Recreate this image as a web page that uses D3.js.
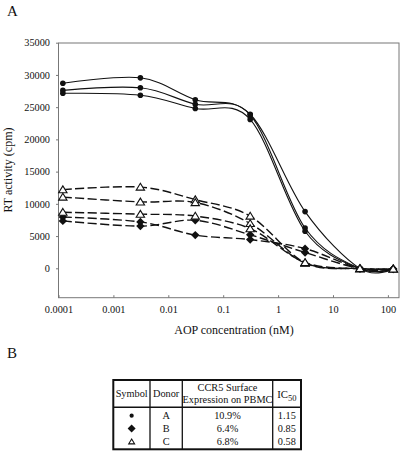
<!DOCTYPE html>
<html><head><meta charset="utf-8">
<script src="https://cdn.jsdelivr.net/npm/d3@7"></script>
<style>body{margin:0;background:#fff}svg{display:block}text{font-family:"Liberation Serif","Times New Roman",serif;fill:#111}</style>
</head><body><svg id="c" width="404" height="456"></svg>
<script>
// concentrations (nM)
const conc = [0.00012, 0.0031, 0.031, 0.31, 3.1, 31, 125];
// Donor A (circles, solid)
const donorA1 = [28700, 29550, 26150, 23900, 8800, -50, -100];
const donorA2 = [27600, 28000, 25450, 23800, 6250, -50, -100];
const donorA3 = [27150, 26850, 24800, 23100, 5750, -50, -100];
// Donor B (diamonds, dashed)
const donorB1 = [7950, 7200, 5150, 4450, 3050, -50, -100];
const donorB2 = [7350, 6550, 7450, 5200, 2450, -50, -100];
// Donor C (triangles, dashed)
const donorC1 = [12200, 12600, 10650, 8100, 850, -50, -100];
const donorC2 = [11050, 10300, 10200, 6950, 800, -50, -100];
const donorC3 = [8700, 8400, 8100, 6150, 900, -50, -100];
const yTicks = [0, 5000, 10000, 15000, 20000, 25000, 30000, 35000];
const xTicks = [0.0001, 0.001, 0.01, 0.1, 1, 10, 100];
const xTickLabels = ["0.0001", "0.001", "0.01", "0.1", "1", "10", "100"];
// table
const tableSymbols = ["circle", "diamond", "triangle"];
const tableDonors = ["A", "B", "C"];
const tableCCR5 = ["10.9%", "6.4%", "6.8%"];
const tableIC50 = ["1.15", "0.85", "0.58"];

const series = [
  {v: donorA1, sym: "circle", dash: null},
  {v: donorA2, sym: "circle", dash: null},
  {v: donorA3, sym: "circle", dash: null},
  {v: donorB1, sym: "diamond", dash: "9,3.5"},
  {v: donorB2, sym: "diamond", dash: "9,3.5"},
  {v: donorC1, sym: "triangle", dash: "9,3.5"},
  {v: donorC2, sym: "triangle", dash: "9,3.5"},
  {v: donorC3, sym: "triangle", dash: "9,3.5"}
];

const svg = d3.select("#c");
const L = 58.5, R = 399, T = 43, B = 297.7;
const x = d3.scaleLog().domain([1e-4, Math.pow(10, (R - L) / 54.9 - 4)]).range([L, R]);
const y = d3.scaleLinear().domain([0, 35000]).range([268.3, 42.7]);

// frame
svg.append("rect").attr("x", L).attr("y", T).attr("width", R - L).attr("height", B - T)
  .attr("fill", "none").attr("stroke", "#777").attr("stroke-width", 1);

// y axis
const ya = svg.append("g").attr("transform", `translate(${L},0)`)
  .call(d3.axisLeft(y).tickValues(yTicks).tickSize(2.5).tickPadding(6).tickFormat(d3.format("d")));
ya.attr("font-family", null);
ya.select(".domain").remove();
ya.selectAll("line").attr("stroke", "#777");
ya.selectAll("text").attr("font-size", 10.3).style("font-family", "'Liberation Serif',serif").attr("fill", "#111");

// x axis
const xa = svg.append("g").attr("transform", `translate(0,${B})`)
  .call(d3.axisBottom(x).tickValues(xTicks).tickSize(-2.5).tickPadding(8).tickFormat((d, i) => xTickLabels[i]));
xa.attr("font-family", null);
xa.select(".domain").remove();
xa.selectAll("line").attr("stroke", "#777");
xa.selectAll("text").attr("font-size", 10.3).style("font-family", "'Liberation Serif',serif").attr("fill", "#111");

// titles
svg.append("text").attr("x", 7).attr("y", 16).attr("font-size", 15).text("A");
svg.append("text").attr("x", 7).attr("y", 358).attr("font-size", 15).text("B");
svg.append("text").attr("transform", "translate(12,170) rotate(-90)").attr("text-anchor", "middle")
  .attr("font-size", 12).text("RT activity (cpm)");
svg.append("text").attr("x", 234).attr("y", 334).attr("text-anchor", "middle")
  .attr("font-size", 12).text("AOP concentration (nM)");

const line = d3.line().x((d, i) => x(conc[i])).y(d => y(d)).curve(d3.curveCatmullRom.alpha(0));

function drawSym(g, sym, cx, cy, scale) {
  scale = scale || 1;
  if (sym === "circle") {
    g.append("circle").attr("cx", cx).attr("cy", cy).attr("r", 2.8 * scale).attr("fill", "#111");
  } else if (sym === "diamond") {
    const s = 4.2 * scale;
    g.append("path").attr("d", `M${cx},${cy - s}L${cx + s},${cy}L${cx},${cy + s}L${cx - s},${cy}Z`).attr("fill", "#111");
  } else {
    const s = 3.8 * scale;
    g.append("path").attr("d", `M${cx},${cy - s}L${cx + s * 1.1},${cy + s * 0.8}L${cx - s * 1.1},${cy + s * 0.8}Z`)
      .attr("fill", "#fff").attr("stroke", "#111").attr("stroke-width", 1.1);
  }
}

const gl = svg.append("g");
[...series].reverse().forEach(s => {
  gl.append("path").attr("d", line(s.v)).attr("fill", "none").attr("stroke", "#111")
    .attr("stroke-width", s.dash ? 1.4 : 1.1).attr("stroke-dasharray", s.dash);
});
const gm = svg.append("g");
series.forEach(s => {
  s.v.forEach((v, i) => drawSym(gm, s.sym, x(conc[i]), y(v)));
});

// table
const tb = svg.append("g");
const cx = [113.3, 150, 182.3, 272.7, 301];
const tTop = 380, tHead = 407.3, tBot = 449.3;
tb.append("rect").attr("x", cx[0]).attr("y", tTop).attr("width", cx[4] - cx[0]).attr("height", tBot - tTop)
  .attr("fill", "none").attr("stroke", "#111").attr("stroke-width", 2);
tb.append("line").attr("x1", cx[0]).attr("x2", cx[4]).attr("y1", tHead).attr("y2", tHead)
  .attr("stroke", "#111").attr("stroke-width", 1.6);
[1, 2, 3].forEach(k => tb.append("line").attr("x1", cx[k]).attr("x2", cx[k]).attr("y1", tTop).attr("y2", tBot)
  .attr("stroke", "#111").attr("stroke-width", 1.3));
const mid = k => (cx[k] + cx[k + 1]) / 2;
const fs = 10.3;
tb.append("text").attr("x", mid(0)).attr("y", 396.8).attr("text-anchor", "middle").attr("font-size", fs).text("Symbol");
tb.append("text").attr("x", mid(1)).attr("y", 396.8).attr("text-anchor", "middle").attr("font-size", fs).text("Donor");
tb.append("text").attr("x", mid(2)).attr("y", 391).attr("text-anchor", "middle").attr("font-size", fs).text("CCR5 Surface");
tb.append("text").attr("x", mid(2)).attr("y", 403.3).attr("text-anchor", "middle").attr("font-size", fs).text("Expression on PBMC");
const ic = tb.append("text").attr("x", mid(3)).attr("y", 398).attr("text-anchor", "middle").attr("font-size", fs + 0.5);
ic.append("tspan").text("IC");
ic.append("tspan").attr("dy", 2.5).attr("font-size", 8.5).text("50");
const rowY = [415.7, 428.5, 441.7];
const tblScale = [0.75, 0.95, 0.7];
tableDonors.forEach((d, i) => {
  drawSym(tb, tableSymbols[i], mid(0), rowY[i], tblScale[i]);
  tb.append("text").attr("x", mid(1)).attr("y", rowY[i] + 3.5).attr("text-anchor", "middle").attr("font-size", fs).text(d);
  tb.append("text").attr("x", mid(2)).attr("y", rowY[i] + 3.5).attr("text-anchor", "middle").attr("font-size", fs).text(tableCCR5[i]);
  tb.append("text").attr("x", mid(3)).attr("y", rowY[i] + 3.5).attr("text-anchor", "middle").attr("font-size", fs).text(tableIC50[i]);
});
</script></body></html>
